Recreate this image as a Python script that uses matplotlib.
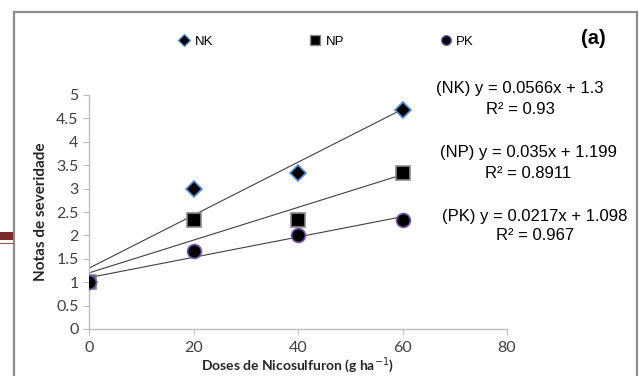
import matplotlib.pyplot as plt
import numpy as np
from matplotlib.patches import Rectangle
from matplotlib.lines import Line2D

# doses (g/ha) and severity scores
doses = [0, 20, 40, 60]
nk = [1.0, 3.0, 3.33, 4.67]
np_ = [1.0, 2.33, 2.33, 3.33]
pk = [1.0, 1.67, 2.0, 2.33]

# regression coefficients printed on the chart
fits = {"NK": (0.0566, 1.3, "0.93"),
        "NP": (0.035, 1.199, "0.8911"),
        "PK": (0.0217, 1.098, "0.967")}

xticks = [0, 20, 40, 60, 80]
yticks = [0, 0.5, 1, 1.5, 2, 2.5, 3, 3.5, 4, 4.5, 5]
ytlabels = ["0", "0.5", "1", "1.5", "2", "2.5", "3", "3.5", "4", "4.5", "5"]

fig = plt.figure(figsize=(6.39, 3.76), dpi=100)
ax = fig.add_axes([89/639, 1-329/376, (507-89)/639, (329-95)/376])

# outer frame (bottom is cut off in the original)
fig.patches.append(Rectangle((13.5/639, -0.05), (636.5-13.5)/639, 1.05-11.5/376,
                             transform=fig.transFigure, fill=False,
                             edgecolor="#8c8c8c", linewidth=1.6))
# small dark red stripe at the left border
fig.patches.append(Rectangle((0, 1-240/376), 13/639, 8/376, transform=fig.transFigure,
                             facecolor="#7b2a2a", edgecolor="none"))
fig.lines.append(Line2D([0, 13/639], [1-242.5/376]*2, transform=fig.transFigure,
                        color="#a05050", linewidth=0.8))

xl = np.array([0, 60])
for key in ["NK", "NP", "PK"]:
    a, b, r2 = fits[key]
    ax.plot(xl, a*xl + b, color="#404040", linewidth=0.8, zorder=2)

ax.plot(doses, nk, linestyle="none", marker="D", markersize=8, color="black",
        markeredgecolor="#5b8fcf", markeredgewidth=1.2, zorder=3, label="NK")
ax.plot(doses, np_, linestyle="none", marker="s", markersize=10, color="black",
        markeredgecolor="#8a8a8a", markeredgewidth=1.2, zorder=4, label="NP")
ax.plot(doses, pk, linestyle="none", marker="o", markersize=10, color="black",
        markeredgecolor="#7a5ca8", markeredgewidth=1.2, zorder=5, label="PK")

ax.set_xlim(0, 80)
ax.set_ylim(0, 5)
ax.set_xticks(xticks)
ax.set_yticks(yticks)
ax.set_yticklabels(ytlabels)
for s in ["top", "right"]:
    ax.spines[s].set_visible(False)
for s in ["left", "bottom"]:
    ax.spines[s].set_color("#bfbfbf")
    ax.spines[s].set_linewidth(1.0)
ax.tick_params(direction="out", length=4, color="#bfbfbf", labelsize=11.5,
               labelcolor="#404040")
for lab in ax.get_xticklabels() + ax.get_yticklabels():
    lab.set_family("Lato")
ax.tick_params(axis="x", pad=5)

ax.set_xlabel("Doses de Nicosulfuron (g ha$^{-1}$)", fontsize=10, fontweight="bold",
              family="Lato", color="#262626", va="center")
ax.xaxis.set_label_coords(0.5, -(365 - 329)/234)
ax.set_ylabel("Notas de severidade", fontsize=11, fontweight="bold", family="Lato",
              color="#262626", labelpad=6)

# legend
handles = [Line2D([], [], linestyle="none", marker="D", markersize=6, color="black",
                  markeredgecolor="#5b8fcf"),
           Line2D([], [], linestyle="none", marker="s", markersize=7, color="black",
                  markeredgecolor="#8a8a8a"),
           Line2D([], [], linestyle="none", marker="o", markersize=7, color="black",
                  markeredgecolor="#7a5ca8")]
fig.legend(handles, ["NK", "NP", "PK"], loc="center", bbox_to_anchor=(326/639, 1-42/376),
           ncol=3, frameon=False, columnspacing=7.2, handletextpad=0.3,
           handlelength=1.0, prop={"family": "Liberation Sans", "size": 9.5})

tf = "Liberation Sans"
fs = 12
fig.text(520/639, 1-88/376, "(NK) y = 0.0566x + 1.3", ha="center", va="center",
         fontsize=fs, family=tf)
fig.text(520/639, 1-109/376, "R² = 0.93", ha="center", va="center", fontsize=fs, family=tf)
fig.text(528/639, 1-153/376, "(NP) y = 0.035x + 1.199", ha="center", va="center",
         fontsize=fs, family=tf)
fig.text(528/639, 1-174/376, "R² = 0.8911", ha="center", va="center", fontsize=fs, family=tf)
fig.text(535/639, 1-217/376, "(PK) y = 0.0217x + 1.098", ha="center", va="center",
         fontsize=fs, family=tf)
fig.text(535/639, 1-236/376, "R² = 0.967", ha="center", va="center", fontsize=fs, family=tf)
fig.text(593/639, 1-38/376, "(a)", ha="center", va="center", fontsize=14.5,
         fontweight="bold", family=tf)

fig.savefig("out.png", dpi=100)
